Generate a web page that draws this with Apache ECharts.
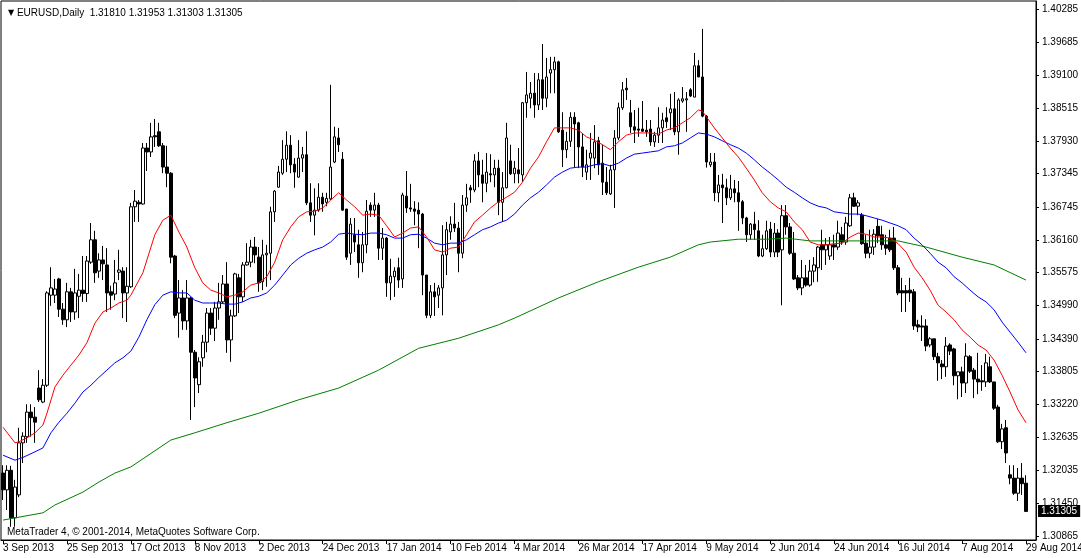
<!DOCTYPE html>
<html><head><meta charset="utf-8">
<script src="https://cdn.jsdelivr.net/npm/echarts@6/dist/echarts.min.js"></script>
<style>html,body{margin:0;padding:0;background:#fff}#c{width:1081px;height:558px}</style>
</head><body><div id="c"></div>
<script>
const symbol = 'EURUSD';
const period = 'Daily';
const firstBarDate = '2013-09-03';
const closedDays = ['2013-12-25', '2014-01-01'];
const barCount = 257;
const xTickLabels = ['3 Sep 2013','25 Sep 2013','17 Oct 2013','8 Nov 2013','2 Dec 2013','24 Dec 2013','17 Jan 2014','10 Feb 2014','4 Mar 2014','26 Mar 2014','17 Apr 2014','9 May 2014','2 Jun 2014','24 Jun 2014','16 Jul 2014','7 Aug 2014','29 Aug 2014'];
const yTickLabels = ['1.40285','1.39685','1.39100','1.38515','1.37930','1.37345','1.36745','1.36160','1.35575','1.34990','1.34390','1.33805','1.33220','1.32635','1.32035','1.31450','1.30865'];
const copyright = 'MetaTrader 4, \u00a9 2001-2014, MetaQuotes Software Corp.';

// [open, close, low, high]
const candles = [
[1.3199,1.3169,1.3151,1.3213],[1.3169,1.3204,1.3133,1.3213],[1.3204,1.3119,1.3103,1.3212],[1.3119,1.3174,1.3103,1.3187],
[1.3160,1.3253,1.3156,1.3280],[1.3253,1.3265,1.3217,1.3272],[1.3264,1.3308,1.3253,1.3322],[1.3308,1.3298,1.3264,1.3322],
[1.3299,1.3290,1.3253,1.3317],[1.3351,1.3330,1.3326,1.3383],[1.3326,1.3356,1.3324,1.3367],[1.3356,1.3521,1.3353,1.3524],
[1.3517,1.3530,1.3498,1.3567],[1.3517,1.3528,1.3503,1.3546],[1.3546,1.3492,1.3478,1.3548],[1.3492,1.3473,1.3464,1.3503],
[1.3473,1.3523,1.3460,1.3539],[1.3523,1.3487,1.3469,1.3530],[1.3487,1.3521,1.3473,1.3564],[1.3515,1.3526,1.3476,1.3555],
[1.3526,1.3520,1.3505,1.3587],[1.3520,1.3578,1.3505,1.3587],[1.3576,1.3616,1.3573,1.3646],[1.3616,1.3557,1.3539,1.3632],
[1.3560,1.3580,1.3548,1.3592],[1.3580,1.3573,1.3544,1.3605],[1.3571,1.3521,1.3487,1.3601],[1.3523,1.3517,1.3491,1.3534],
[1.3519,1.3539,1.3508,1.3580],[1.3558,1.3562,1.3544,1.3598],[1.3560,1.3521,1.3476,1.3567],[1.3521,1.3533,1.3469,1.3567],
[1.3532,1.3675,1.3530,1.3682],[1.3675,1.3685,1.3648,1.3705],[1.3683,1.3680,1.3648,1.3687],[1.3680,1.3780,1.3679,1.3789],
[1.3780,1.3773,1.3739,1.3789],[1.3773,1.3800,1.3764,1.3825],[1.3802,1.3800,1.3782,1.3832],[1.3809,1.3784,1.3782,1.3825],
[1.3784,1.3746,1.3735,1.3789],[1.3746,1.3735,1.3710,1.3784],[1.3735,1.3585,1.3574,1.3737],[1.3587,1.3481,1.3476,1.3589],
[1.3485,1.3512,1.3441,1.3544],[1.3512,1.3471,1.3455,1.3526],[1.3471,1.3512,1.3455,1.3544],[1.3512,1.3415,1.3294,1.3514],
[1.3415,1.3369,1.3317,1.3419],[1.3357,1.3398,1.3342,1.3406],[1.3405,1.3433,1.3389,1.3446],[1.3433,1.3485,1.3415,1.3494],
[1.3485,1.3458,1.3446,1.3494],[1.3458,1.3494,1.3435,1.3505],[1.3494,1.3505,1.3473,1.3539],[1.3505,1.3537,1.3503,1.3553],
[1.3537,1.3437,1.3414,1.3576],[1.3437,1.3480,1.3398,1.3491],[1.3480,1.3555,1.3478,1.3557],[1.3548,1.3514,1.3485,1.3555],
[1.3514,1.3571,1.3505,1.3576],[1.3571,1.3576,1.3570,1.3610],[1.3576,1.3603,1.3567,1.3616],[1.3603,1.3589,1.3574,1.3621],
[1.3585,1.3539,1.3523,1.3603],[1.3541,1.3589,1.3526,1.3616],[1.3589,1.3592,1.3532,1.3607],[1.3592,1.3666,1.3544,1.3675],
[1.3666,1.3703,1.3648,1.3705],[1.3710,1.3737,1.3709,1.3748],[1.3735,1.3760,1.3732,1.3794],[1.3760,1.3785,1.3737,1.3810],
[1.3785,1.3750,1.3735,1.3803],[1.3751,1.3737,1.3709,1.3762],[1.3728,1.3762,1.3727,1.3794],[1.3762,1.3768,1.3737,1.3782],
[1.3768,1.3682,1.3678,1.3810],[1.3682,1.3660,1.3648,1.3717],[1.3660,1.3669,1.3624,1.3708],[1.3669,1.3692,1.3666,1.3717],
[1.3692,1.3680,1.3666,1.3700],[1.3683,1.3690,1.3676,1.3700],[1.3689,1.3746,1.3687,1.3893],[1.3755,1.3800,1.3753,1.3818],
[1.3798,1.3786,1.3773,1.3816],[1.3760,1.3669,1.3668,1.3773],[1.3671,1.3585,1.3580,1.3671],[1.3592,1.3644,1.3571,1.3655],
[1.3625,1.3612,1.3594,1.3655],[1.3607,1.3575,1.3548,1.3634],[1.3575,1.3607,1.3558,1.3630],[1.3607,1.3667,1.3592,1.3687],
[1.3678,1.3669,1.3657,1.3683],[1.3669,1.3678,1.3657,1.3700],[1.3678,1.3601,1.3580,1.3682],[1.3601,1.3619,1.3580,1.3637],
[1.3619,1.3539,1.3514,1.3621],[1.3539,1.3551,1.3508,1.3582],[1.3550,1.3560,1.3514,1.3567],[1.3566,1.3544,1.3530,1.3584],
[1.3546,1.3696,1.3530,1.3700],[1.3694,1.3673,1.3664,1.3739],[1.3673,1.3671,1.3666,1.3716],[1.3671,1.3667,1.3642,1.3685],
[1.3669,1.3662,1.3601,1.3683],[1.3662,1.3553,1.3517,1.3664],[1.3553,1.3481,1.3476,1.3553],[1.3481,1.3523,1.3476,1.3535],
[1.3523,1.3514,1.3480,1.3539],[1.3517,1.3530,1.3494,1.3535],[1.3530,1.3589,1.3481,1.3642],[1.3589,1.3634,1.3553,1.3648],
[1.3630,1.3644,1.3616,1.3658],[1.3644,1.3637,1.3630,1.3682],[1.3637,1.3592,1.3558,1.3648],[1.3592,1.3678,1.3583,1.3696],
[1.3678,1.3691,1.3666,1.3716],[1.3709,1.3705,1.3682,1.3714],[1.3705,1.3757,1.3701,1.3769],[1.3757,1.3732,1.3710,1.3773],
[1.3732,1.3717,1.3683,1.3759],[1.3717,1.3737,1.3701,1.3771],[1.3734,1.3732,1.3719,1.3769],[1.3732,1.3744,1.3710,1.3759],
[1.3744,1.3683,1.3660,1.3759],[1.3683,1.3709,1.3648,1.3737],[1.3709,1.3798,1.3708,1.3825],[1.3757,1.3734,1.3732,1.3786],
[1.3734,1.3744,1.3717,1.3757],[1.3741,1.3734,1.3717,1.3780],[1.3732,1.3861,1.3720,1.3862],[1.3861,1.3875,1.3834,1.3916],
[1.3869,1.3878,1.3851,1.3898],[1.3878,1.3857,1.3834,1.3914],[1.3857,1.3902,1.3848,1.3914],[1.3902,1.3869,1.3848,1.3966],
[1.3869,1.3907,1.3853,1.3941],[1.3914,1.3920,1.3878,1.3943],[1.3920,1.3934,1.3878,1.3943],[1.3934,1.3809,1.3807,1.3936],
[1.3812,1.3777,1.3746,1.3844],[1.3777,1.3792,1.3762,1.3809],[1.3792,1.3835,1.3782,1.3844],[1.3835,1.3823,1.3746,1.3844],
[1.3825,1.3782,1.3744,1.3827],[1.3782,1.3746,1.3728,1.3807],[1.3737,1.3750,1.3723,1.3777],[1.3762,1.3771,1.3723,1.3807],
[1.3762,1.3791,1.3744,1.3821],[1.3793,1.3750,1.3732,1.3800],[1.3753,1.3719,1.3696,1.3786],[1.3719,1.3700,1.3696,1.3746],
[1.3698,1.3741,1.3696,1.3750],[1.3741,1.3798,1.3673,1.3812],[1.3798,1.3852,1.3794,1.3861],[1.3852,1.3884,1.3848,1.3898],
[1.3887,1.3884,1.3866,1.3905],[1.3843,1.3818,1.3807,1.3866],[1.3818,1.3812,1.3789,1.3848],[1.3814,1.3812,1.3800,1.3852],
[1.3814,1.3810,1.3809,1.3864],[1.3812,1.3809,1.3800,1.3830],[1.3814,1.3791,1.3784,1.3830],[1.3791,1.3803,1.3782,1.3809],
[1.3803,1.3816,1.3789,1.3853],[1.3816,1.3830,1.3789,1.3843],[1.3834,1.3827,1.3816,1.3853],[1.3843,1.3850,1.3812,1.3877],
[1.3850,1.3809,1.3803,1.3880],[1.3809,1.3866,1.3768,1.3869],[1.3864,1.3868,1.3861,1.3889],[1.3866,1.3868,1.3809,1.3880],
[1.3884,1.3873,1.3871,1.3887],[1.3871,1.3927,1.3871,1.3950],[1.3927,1.3907,1.3907,1.3937],[1.3907,1.3837,1.3835,1.3993],
[1.3837,1.3755,1.3745,1.3839],[1.3750,1.3755,1.3746,1.3771],[1.3755,1.3700,1.3685,1.3771],[1.3700,1.3714,1.3683,1.3732],
[1.3714,1.3709,1.3646,1.3734],[1.3709,1.3691,1.3678,1.3725],[1.3691,1.3707,1.3687,1.3732],[1.3707,1.3700,1.3683,1.3723],
[1.3700,1.3684,1.3632,1.3721],[1.3684,1.3655,1.3644,1.3687],[1.3655,1.3625,1.3612,1.3657],[1.3625,1.3644,1.3616,1.3646],
[1.3644,1.3634,1.3616,1.3666],[1.3632,1.3587,1.3585,1.3651],[1.3587,1.3600,1.3585,1.3625],[1.3600,1.3632,1.3598,1.3650],
[1.3635,1.3594,1.3585,1.3648],[1.3594,1.3628,1.3585,1.3646],[1.3628,1.3594,1.3585,1.3635],[1.3598,1.3659,1.3499,1.3678],
[1.3659,1.3639,1.3625,1.3678],[1.3639,1.3592,1.3589,1.3646],[1.3592,1.3546,1.3544,1.3630],[1.3548,1.3530,1.3526,1.3553],
[1.3530,1.3548,1.3517,1.3580],[1.3548,1.3535,1.3532,1.3571],[1.3535,1.3560,1.3532,1.3580],[1.3560,1.3571,1.3540,1.3585],
[1.3566,1.3603,1.3541,1.3605],[1.3607,1.3598,1.3562,1.3634],[1.3598,1.3607,1.3571,1.3619],[1.3587,1.3607,1.3580,1.3621],
[1.3607,1.3603,1.3580,1.3625],[1.3603,1.3628,1.3598,1.3650],[1.3625,1.3612,1.3607,1.3639],[1.3612,1.3646,1.3607,1.3657],
[1.3641,1.3691,1.3639,1.3698],[1.3691,1.3676,1.3675,1.3700],[1.3676,1.3682,1.3660,1.3687],[1.3660,1.3609,1.3607,1.3664],
[1.3610,1.3592,1.3583,1.3625],[1.3592,1.3603,1.3583,1.3634],[1.3603,1.3626,1.3589,1.3635],[1.3640,1.3623,1.3610,1.3653],
[1.3625,1.3607,1.3598,1.3641],[1.3607,1.3601,1.3589,1.3625],[1.3619,1.3598,1.3594,1.3634],[1.3619,1.3566,1.3562,1.3639],
[1.3566,1.3521,1.3517,1.3571],[1.3525,1.3521,1.3487,1.3548],[1.3525,1.3521,1.3487,1.3535],[1.3526,1.3521,1.3505,1.3548],
[1.3523,1.3462,1.3455,1.3528],[1.3464,1.3460,1.3451,1.3473],[1.3462,1.3460,1.3435,1.3481],[1.3462,1.3426,1.3417,1.3474],
[1.3428,1.3439,1.3424,1.3442],[1.3439,1.3407,1.3401,1.3439],[1.3407,1.3396,1.3364,1.3414],[1.3394,1.3389,1.3367,1.3401],
[1.3389,1.3426,1.3371,1.3442],[1.3428,1.3417,1.3410,1.3431],[1.3421,1.3373,1.3356,1.3423],[1.3373,1.3380,1.3331,1.3380],
[1.3380,1.3360,1.3335,1.3389],[1.3360,1.3408,1.3342,1.3431],[1.3407,1.3381,1.3378,1.3410],[1.3383,1.3367,1.3333,1.3387],
[1.3367,1.3362,1.3340,1.3414],[1.3364,1.3362,1.3346,1.3392],[1.3362,1.3396,1.3353,1.3412],[1.3389,1.3362,1.3360,1.3407],
[1.3362,1.3315,1.3312,1.3362],[1.3317,1.3255,1.3253,1.3321],[1.3255,1.3278,1.3242,1.3287],[1.3280,1.3235,1.3217,1.3294],
[1.3196,1.3190,1.3179,1.3213],[1.3190,1.3163,1.3160,1.3213],[1.3163,1.3190,1.3149,1.3208],[1.3190,1.3180,1.3160,1.3217],
[1.31810,1.31305,1.31303,1.31953]
];

// moving averages: [bar index, value]
const maRed = [[0,1.3281],[3,1.3253],[4,1.3255],[6,1.3262],[8,1.3271],[10,1.3285],[11,1.3306],[13,1.3353],[15,1.3374],[17,1.3392],[19,1.3410],[21,1.3432],[23,1.3467],[25,1.3487],[27,1.3494],[29,1.3503],[31,1.3508],[32,1.3517],[35,1.3557],[38,1.3625],[40,1.3651],[42,1.3660],[44,1.3630],[46,1.3603],[48,1.3566],[50,1.3539],[52,1.3526],[54,1.3521],[56,1.3514],[58,1.3517],[60,1.3523],[62,1.3535],[64,1.3539],[66,1.3550],[68,1.3576],[70,1.3616],[72,1.3639],[74,1.3657],[76,1.3666],[78,1.3667],[80,1.3673],[82,1.3687],[84,1.3700],[86,1.3687],[88,1.3675],[90,1.3660],[92,1.3662],[94,1.3660],[96,1.3641],[98,1.3621],[100,1.3628],[102,1.3637],[104,1.3639],[106,1.3621],[108,1.3598],[110,1.3594],[112,1.3601],[114,1.3603],[116,1.3625],[118,1.3648],[120,1.3660],[122,1.3673],[124,1.3684],[126,1.3692],[128,1.3701],[130,1.3719],[132,1.3744],[134,1.3764],[136,1.3791],[138,1.3816],[140,1.3816],[142,1.3816],[144,1.3812],[146,1.3800],[148,1.3794],[150,1.3786],[152,1.3777],[154,1.3791],[156,1.3803],[158,1.3807],[160,1.3807],[162,1.3807],[164,1.3805],[166,1.3812],[168,1.3816],[170,1.3825],[172,1.3834],[174,1.3848],[175,1.3846],[176,1.3836],[178,1.3816],[180,1.3798],[182,1.3780],[184,1.3764],[186,1.3744],[188,1.3723],[190,1.3700],[192,1.3684],[194,1.3673],[196,1.3666],[198,1.3648],[200,1.3634],[202,1.3612],[204,1.3607],[206,1.3607],[208,1.3609],[210,1.3610],[212,1.3621],[214,1.3628],[216,1.3626],[218,1.3621],[220,1.3621],[222,1.3619],[224,1.3609],[226,1.3594],[228,1.3567],[230,1.3548],[232,1.3526],[234,1.3499],[236,1.3487],[238,1.3473],[240,1.3455],[242,1.3442],[244,1.3428],[246,1.3419],[248,1.3401],[250,1.3374],[252,1.3344],[254,1.3312],[256,1.3289]];
const maBlue = [[0,1.3231],[3,1.3222],[5,1.3227],[8,1.3237],[10,1.3244],[12,1.3271],[14,1.3290],[16,1.3306],[18,1.3324],[20,1.3344],[22,1.3356],[24,1.3370],[26,1.3383],[28,1.3396],[30,1.3405],[32,1.3417],[34,1.3442],[36,1.3473],[38,1.3500],[40,1.3517],[42,1.3523],[44,1.3521],[46,1.3521],[48,1.3508],[50,1.3503],[52,1.3503],[54,1.3503],[56,1.3501],[58,1.3501],[60,1.3505],[62,1.3512],[64,1.3515],[66,1.3521],[68,1.3535],[70,1.3553],[72,1.3571],[74,1.3583],[76,1.3592],[78,1.3598],[80,1.3603],[82,1.3612],[84,1.3626],[86,1.3628],[88,1.3626],[90,1.3625],[92,1.3628],[94,1.3628],[96,1.3625],[98,1.3619],[100,1.3619],[102,1.3625],[104,1.3626],[106,1.3619],[108,1.3610],[110,1.3607],[112,1.3610],[114,1.3610],[116,1.3616],[118,1.3625],[120,1.3634],[122,1.3639],[124,1.3646],[126,1.3651],[128,1.3662],[130,1.3678],[132,1.3691],[134,1.3701],[136,1.3714],[138,1.3728],[140,1.3737],[142,1.3744],[144,1.3746],[146,1.3746],[148,1.3750],[150,1.3752],[152,1.3748],[154,1.3753],[156,1.3762],[158,1.3769],[160,1.3771],[162,1.3773],[164,1.3775],[166,1.3782],[168,1.3784],[170,1.3789],[172,1.3798],[174,1.3807],[176,1.3805],[178,1.3800],[180,1.3793],[182,1.3786],[184,1.3780],[186,1.3771],[188,1.3759],[190,1.3746],[192,1.3735],[194,1.3723],[196,1.3710],[198,1.3701],[200,1.3691],[202,1.3682],[204,1.3676],[206,1.3673],[208,1.3666],[210,1.3664],[212,1.3662],[214,1.3662],[216,1.3659],[218,1.3655],[220,1.3651],[222,1.3646],[224,1.3641],[226,1.3634],[228,1.3619],[230,1.3607],[232,1.3592],[234,1.3576],[236,1.3566],[238,1.3550],[240,1.3539],[242,1.3526],[244,1.3514],[246,1.3505],[248,1.3491],[250,1.3469],[252,1.3451],[254,1.3433],[256,1.3414]];
const maGreen = [[0,1.3115],[10,1.3128],[13,1.3142],[20,1.3165],[24,1.3183],[28,1.3199],[32,1.3210],[42,1.3258],[48,1.3271],[56,1.3289],[64,1.3306],[74,1.3330],[84,1.3351],[94,1.3383],[104,1.3422],[114,1.3440],[124,1.3464],[128,1.3476],[139,1.3512],[149,1.3541],[159,1.3567],[167,1.3585],[174,1.3607],[177,1.3612],[184,1.3617],[191,1.3617],[196,1.3619],[202,1.3614],[224,1.3614],[231,1.3603],[240,1.3585],[248,1.3571],[256,1.3544]];

// bar dates (trading days)
const categories = [];
(function () {
  const d = new Date(firstBarDate + 'T12:00:00Z');
  while (categories.length < barCount) {
    const iso = d.toISOString().slice(0, 10);
    const wd = d.getUTCDay();
    if (wd !== 0 && wd !== 6 && closedDays.indexOf(iso) < 0) categories.push(iso);
    d.setUTCDate(d.getUTCDate() + 1);
  }
  categories.push('', ''); // right shift of the chart
})();

const last = candles[candles.length - 1];
const f5 = v => v.toFixed(5);
const FONT = 'Liberation Sans';

const chart = echarts.init(document.getElementById('c'), null, {renderer: 'canvas'});
chart.setOption({
  animation: false,
  backgroundColor: '#ffffff',
  textStyle: {fontFamily: FONT},
  title: {
    left: 3, top: 3,
    text: '{t|\u25bc} ' + symbol + ',' + period + '  ' + f5(last[0]) + ' ' + f5(last[3]) + ' ' + f5(last[2]) + ' ' + f5(last[1]),
    textStyle: {
      fontSize: 10, fontWeight: 'normal', color: '#000', fontFamily: FONT,
      rich: {t: {fontSize: 8, color: '#000', fontFamily: 'DejaVu Sans'}}
    }
  },
  graphic: [{
    type: 'text', left: 7, top: 527,
    style: {text: copyright, fontSize: 10, fontFamily: FONT, fill: '#000'}
  }],
  grid: {
    left: 1, right: 45, top: 1, bottom: 18,
    show: true, borderColor: '#000', borderWidth: 1, backgroundColor: '#fff',
    containLabel: false, outerBoundsMode: 'none'
  },
  xAxis: {
    type: 'category',
    data: categories,
    boundaryGap: true,
    axisLine: {show: true, lineStyle: {color: '#000', width: 1}},
    axisTick: {show: true, interval: 15, alignWithLabel: true, length: 4, lineStyle: {color: '#000'}},
    axisLabel: {
      interval: 15, align: 'left', margin: 3, fontSize: 10, color: '#000', fontFamily: FONT,
      formatter: (v, i) => (i % 16 === 0 && xTickLabels[i / 16]) ? xTickLabels[i / 16] : ''
    },
    splitLine: {show: false}
  },
  yAxis: {
    type: 'value',
    position: 'right',
    min: 1.30794, max: 1.40428,
    scale: true,
    axisLine: {show: true, lineStyle: {color: '#000', width: 1}},
    axisTick: {show: true, length: 3, lineStyle: {color: '#000'}, customValues: yTickLabels.map(Number)},
    axisLabel: {
      customValues: yTickLabels.map(Number),
      margin: 6, fontSize: 10, color: '#000', fontFamily: FONT,
      formatter: v => f5(v)
    },
    splitLine: {show: false}
  },
  series: [
    {
      type: 'candlestick',
      data: candles,
      barWidth: 3,
      itemStyle: {
        color: '#ffffff', color0: '#000000',
        borderColor: '#000000', borderColor0: '#000000', borderColorDoji: '#000000',
        borderWidth: 1
      }
    },
    {type: 'line', data: maGreen, showSymbol: false, symbol: 'none', lineStyle: {color: '#008000', width: 1}, z: 3},
    {type: 'line', data: maBlue, showSymbol: false, symbol: 'none', lineStyle: {color: '#0000ff', width: 1}, z: 3},
    {type: 'line', data: maRed, showSymbol: false, symbol: 'none', lineStyle: {color: '#ff0000', width: 1}, z: 3}
  ]
});

// current price tag on the price scale, placed through the axis scale
const priceY = chart.convertToPixel({yAxisIndex: 0}, last[1]);
const gridRight = 1081 - 45;
chart.setOption({
  graphic: [
    {
      type: 'text', left: 7, top: 527,
      style: {text: copyright, fontSize: 10, fontFamily: FONT, fill: '#000'}
    },
    {
      type: 'text', z: 100,
      x: gridRight + 2, y: Math.round(priceY),
      style: {
        text: f5(last[1]), fontSize: 10, fontFamily: FONT, fill: '#fff',
        verticalAlign: 'middle', align: 'left',
        backgroundColor: '#000', padding: [1, 3, 1, 3]
      }
    }
  ]
});
</script>
</body></html>
